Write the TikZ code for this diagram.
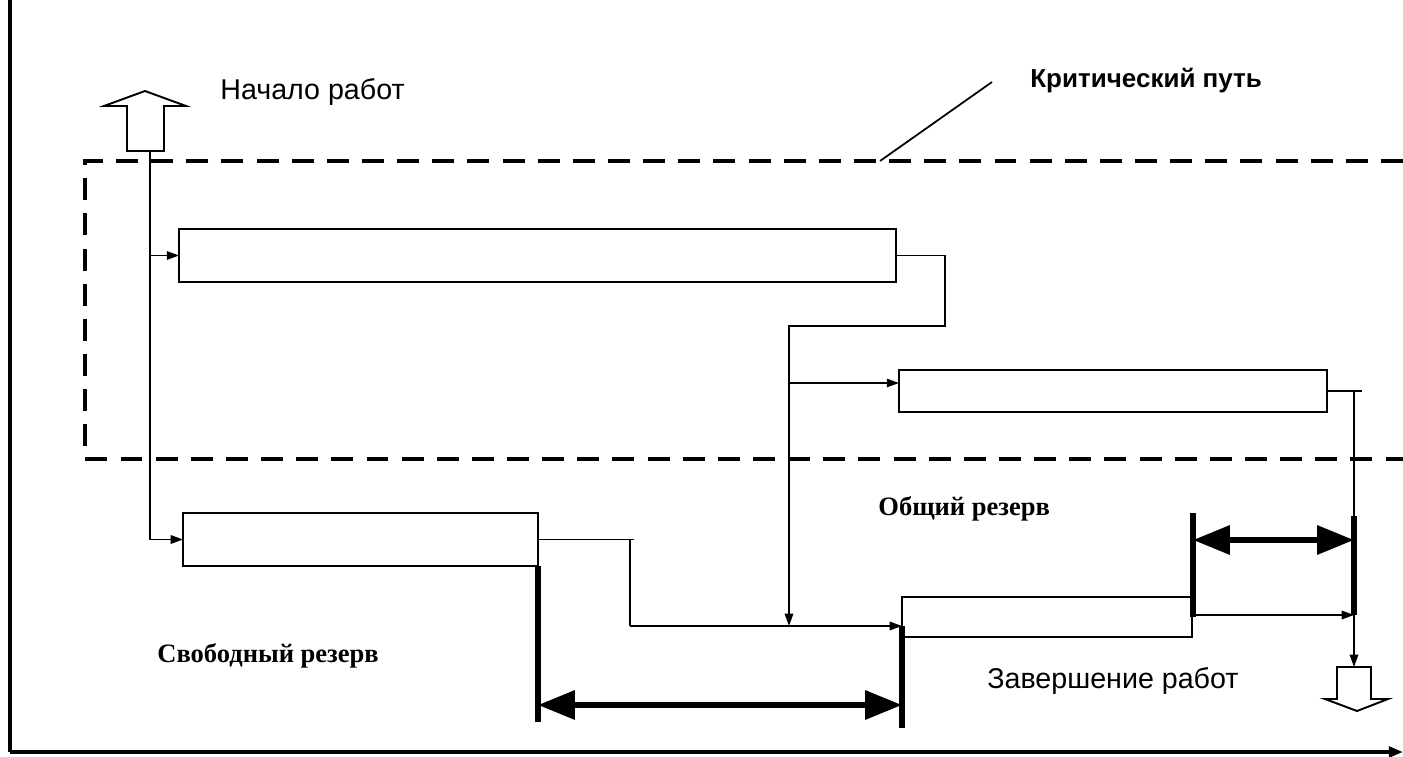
\documentclass[tikz,border=0pt]{standalone}
\usepackage{fontspec}
\setmainfont{Liberation Serif}
\setsansfont{Liberation Sans}
\usetikzlibrary{arrows.meta, positioning, calc}

\begin{document}
\begin{tikzpicture}[x=0.02cm,y=-0.02cm,
    task/.style={draw, line width=1.2pt, inner sep=0pt, outer sep=0pt},
    conn/.style={line width=1pt, -{Triangle[length=7pt,width=4.8pt]}},
    wire/.style={line width=1pt},
    bar/.style={line width=3.4pt},
    span/.style={line width=3.4pt, {Triangle[length=21pt,width=16pt]}-{Triangle[length=21pt,width=16pt]}},
    hollow/.style={draw, line width=1.1pt, fill=white, line join=miter},
    sanslabel/.style={font=\sffamily\fontsize{16.3}{18}\selectfont, anchor=base west, inner sep=0pt},
    seriflabel/.style={font=\rmfamily\bfseries\fontsize{15.1}{17}\selectfont, anchor=base west, inner sep=0pt}]
  \useasboundingbox (0,0) rectangle (1403,757);

  \draw[line width=2.2pt] (10,0) -- (10,752);
  \draw[line width=2.2pt, -{Triangle[length=8pt,width=6pt]}] (10,752) -- (1403,752);

  \draw[line width=2.3pt, dash pattern=on 12.5pt off 7.5pt]
    (1403,161) -- (85,161) -- (85,459) -- (1403,459);

  \node[task, minimum width=14.34cm, minimum height=1.06cm] (crit1) at (537.5,255.5) {};
  \node[task, minimum width=8.56cm, minimum height=0.84cm] (crit2) at (1113,391) {};
  \node[task, minimum width=7.1cm, minimum height=1.06cm] (free1) at (360.5,539.5) {};
  \node[task, minimum width=5.8cm, minimum height=0.8cm] (fin) at (1047,617) {};

  \draw[hollow] (127,151) -- (127,106) -- (104,106) -- (145,91) -- (186,106)
    -- (164,106) -- (164,151) -- cycle;
  \draw[hollow] (1337,667) -- (1337,699) -- (1325,699) -- (1357,711) -- (1388,699)
    -- (1371,699) -- (1371,667) -- cycle;
  \coordinate (startbot) at (150,151);
  \coordinate (endtop) at (1354,667);

  \node[sanslabel] (start) at (220,100) {Начало работ};
  \node[sanslabel, font=\sffamily\bfseries\fontsize{14.8}{17}\selectfont] (critlab) at (1030,88) {Критический путь};
  \node[seriflabel] (totallab) at (878,515) {Общий резерв};
  \node[seriflabel] (freelab) at (157,662) {Свободный резерв};
  \node[sanslabel] (finlab) at (987,688) {Завершение работ};

  \coordinate (leadtip) at (992,82);
  \draw[line width=1pt] (880,161) -- (leadtip);

  \draw[conn] (startbot) |- (free1.west);
  \draw[conn] (150,|-crit1.west) -- (crit1.west);

  \coordinate (join) at (789,626);
  \draw[wire] (crit1.east) -| (945,326) -| (789,383);
  \draw[conn] (789,383) -- (join);
  \draw[conn] (789,383) -- (crit2.west |- 0,383);

  \draw[wire] (free1.east) -- (634,539.5);
  \draw[wire] (630,539.5) -- (630,626);
  \draw[conn] (630,626) -- (902,626);

  \draw[wire] (crit2.east) -- (1362,391);
  \draw[conn] (1354,391) -- (endtop);

  \foreach \x/\a/\b in {538/566/722, 902/626/728, 1193/513/617, 1354/516/615}
    \draw[bar] (\x,\a) -- (\x,\b);

  \draw[conn] (1193,615) -- (1354,615);
  \draw[span] (538,705) -- (902,705);
  \draw[span] (1193,540) -- (1354,540);
\end{tikzpicture}
\end{document}
